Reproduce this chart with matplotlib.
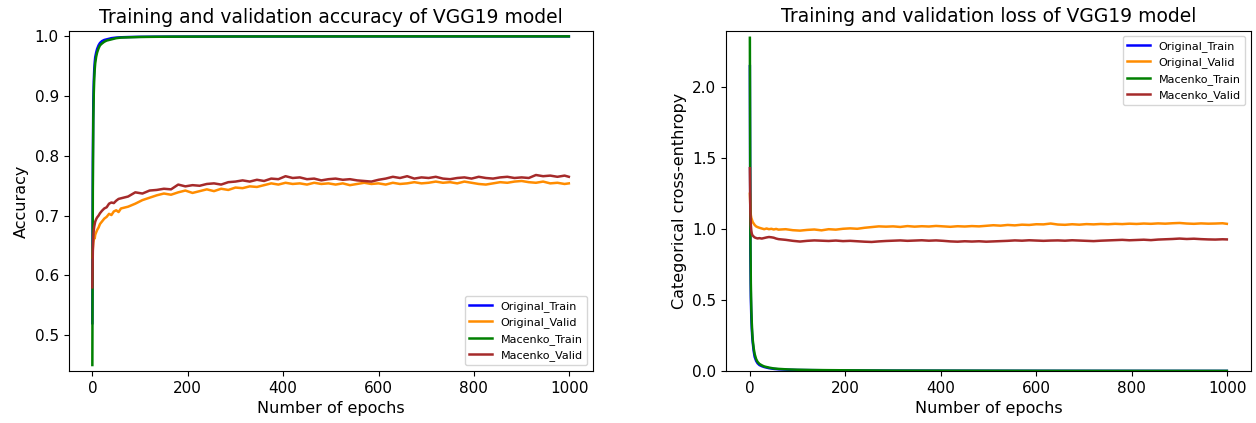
import matplotlib
matplotlib.use("Agg")
import matplotlib.pyplot as plt

# ---------------- data ----------------
val_epochs = [0, 1, 2, 3, 4, 5, 6, 8, 10, 13, 16, 20, 25, 30, 35, 40, 45, 50, 55, 60] \
    + list(range(75, 991, 15)) + [999]
train_epochs = [0, 1, 2, 3, 4, 5, 6, 8, 10, 13, 16, 20, 25, 30, 40, 50, 60, 80, 100,
                130, 160, 200, 250, 300, 400, 500, 600, 700, 800, 900, 999]

orig_train_acc = [0.52, 0.79, 0.89, 0.925, 0.945, 0.957, 0.965, 0.973, 0.979, 0.985,
                  0.989, 0.992, 0.994, 0.995, 0.997, 0.998, 0.9985, 0.999, 0.9993, 0.9995,
                  0.9996, 0.9997, 0.9998, 0.9999, 0.9999, 1.0, 1.0, 1.0, 1.0, 1.0, 1.0]
macenko_train_acc = [0.45, 0.74, 0.86, 0.905, 0.93, 0.945, 0.955, 0.966, 0.973, 0.98,
                     0.985, 0.988, 0.991, 0.993, 0.995, 0.997, 0.998, 0.9985, 0.999, 0.9993,
                     0.9995, 0.9996, 0.9997, 0.9998, 0.9999, 0.9999, 1.0, 1.0, 1.0, 1.0, 1.0]

orig_valid_acc = [0.63, 0.645, 0.655, 0.66, 0.665, 0.662, 0.668, 0.672, 0.676, 0.68,
                  0.686, 0.69, 0.695, 0.698, 0.703, 0.701, 0.707, 0.709, 0.706, 0.712,
                  0.715, 0.72, 0.726, 0.73, 0.734, 0.737, 0.735, 0.739, 0.742, 0.738,
                  0.741, 0.744, 0.741, 0.745, 0.743, 0.747, 0.746, 0.749, 0.748, 0.751,
                  0.754, 0.752, 0.755, 0.753, 0.754, 0.752, 0.755, 0.753, 0.754, 0.752,
                  0.754, 0.751, 0.753, 0.755, 0.753, 0.754, 0.752, 0.755, 0.753, 0.754,
                  0.756, 0.754, 0.755, 0.757, 0.755, 0.756, 0.754, 0.757, 0.755, 0.753,
                  0.752, 0.754, 0.756, 0.755, 0.757, 0.758, 0.756, 0.755, 0.757, 0.754,
                  0.755, 0.753, 0.754]
macenko_valid_acc = [0.58, 0.64, 0.665, 0.676, 0.682, 0.686, 0.69, 0.694, 0.697, 0.70,
                     0.704, 0.708, 0.712, 0.714, 0.72, 0.722, 0.721, 0.725, 0.728, 0.729,
                     0.732, 0.739, 0.737, 0.742, 0.743, 0.745, 0.744, 0.752, 0.749, 0.751,
                     0.75, 0.753, 0.754, 0.752, 0.756, 0.757, 0.759, 0.757, 0.76, 0.758,
                     0.762, 0.761, 0.766, 0.763, 0.764, 0.761, 0.762, 0.759, 0.761, 0.762,
                     0.76, 0.761, 0.759, 0.758, 0.757, 0.76, 0.762, 0.765, 0.763, 0.766,
                     0.762, 0.764, 0.763, 0.765, 0.762, 0.761, 0.763, 0.764, 0.762, 0.765,
                     0.763, 0.762, 0.764, 0.765, 0.763, 0.764, 0.763, 0.768, 0.766, 0.767,
                     0.765, 0.767, 0.765]

orig_train_loss = [2.15, 0.85, 0.52, 0.38, 0.3, 0.24, 0.2, 0.14, 0.1, 0.072, 0.055, 0.042,
                   0.034, 0.028, 0.02, 0.015, 0.012, 0.009, 0.007, 0.006, 0.005, 0.004,
                   0.003, 0.0025, 0.002, 0.0015, 0.0012, 0.001, 0.0008, 0.0007, 0.0006]
macenko_train_loss = [2.35, 1.0, 0.62, 0.44, 0.34, 0.27, 0.22, 0.16, 0.12, 0.085, 0.065,
                      0.05, 0.04, 0.032, 0.024, 0.018, 0.015, 0.011, 0.009, 0.007, 0.006,
                      0.005, 0.004, 0.003, 0.0025, 0.002, 0.0015, 0.0012, 0.001, 0.0009, 0.0008]

orig_valid_loss = [1.25, 1.15, 1.1, 1.08, 1.07, 1.06, 1.05, 1.04, 1.03, 1.02,
                   1.015, 1.01, 1.005, 1.0, 1.005, 1.0, 1.003, 0.998, 1.002, 0.997,
                   1.0, 0.993, 0.99, 0.995, 0.998, 0.992, 1.0, 0.997, 1.003, 1.006,
                   1.003, 1.01, 1.015, 1.02, 1.018, 1.02, 1.016, 1.022, 1.018, 1.021,
                   1.019, 1.023, 1.02, 1.017, 1.021, 1.019, 1.022, 1.02, 1.024, 1.028,
                   1.025, 1.03, 1.027, 1.032, 1.03, 1.035, 1.034, 1.04, 1.033, 1.031,
                   1.035, 1.032, 1.036, 1.034, 1.037, 1.035, 1.038, 1.036, 1.039, 1.037,
                   1.04, 1.038, 1.041, 1.039, 1.042, 1.044, 1.04, 1.038, 1.041, 1.039,
                   1.04, 1.042, 1.038]
macenko_valid_loss = [1.43, 1.12, 1.03, 0.99, 0.97, 0.96, 0.955, 0.948, 0.942, 0.938,
                      0.935, 0.937, 0.934, 0.938, 0.942, 0.945, 0.943, 0.94, 0.934, 0.93,
                      0.925, 0.918, 0.913, 0.918, 0.921, 0.919, 0.917, 0.92, 0.916, 0.918,
                      0.915, 0.912, 0.91, 0.914, 0.917, 0.919, 0.921, 0.918, 0.92, 0.922,
                      0.919, 0.921, 0.918, 0.914, 0.912, 0.915, 0.913, 0.915, 0.912, 0.914,
                      0.916, 0.918, 0.921, 0.919, 0.922, 0.92, 0.918, 0.92, 0.921, 0.919,
                      0.922, 0.92, 0.918, 0.916, 0.919, 0.921, 0.923, 0.925, 0.922, 0.924,
                      0.926, 0.923, 0.927, 0.929, 0.931, 0.934, 0.931, 0.933, 0.93, 0.928,
                      0.927, 0.929, 0.928]

labels = ["Original_Train", "Original_Valid", "Macenko_Train", "Macenko_Valid"]
colors = ["blue", "darkorange", "green", "brown"]

# ---------------- figure ----------------
W, H = 1256, 423
fig = plt.figure(figsize=(W / 100, H / 100), dpi=100)

def px_axes(left, top, right, bottom):
    return fig.add_axes([left / W, 1 - bottom / H, (right - left) / W, (bottom - top) / H])

ax1 = px_axes(68.5, 31, 592.7, 371)
ax2 = px_axes(726, 30.7, 1250.7, 371)

lw = 1.8
ax1.plot(train_epochs, orig_train_acc, color=colors[0], lw=lw, label=labels[0])
ax1.plot(val_epochs, orig_valid_acc, color=colors[1], lw=lw, label=labels[1])
ax1.plot(train_epochs, macenko_train_acc, color=colors[2], lw=lw, label=labels[2])
ax1.plot(val_epochs, macenko_valid_acc, color=colors[3], lw=lw, label=labels[3])
ax1.set_xlim(-50, 1049)
ax1.set_ylim(0.44, 1.009)
ax1.set_title("Training and validation accuracy of VGG19 model", fontsize=13.5)
ax1.set_xlabel("Number of epochs", fontsize=11.5)
ax1.set_ylabel("Accuracy", fontsize=11.5)
ax1.legend(loc="lower right", fontsize=8)

ax2.plot(train_epochs, orig_train_loss, color=colors[0], lw=lw, label=labels[0])
ax2.plot(val_epochs, orig_valid_loss, color=colors[1], lw=lw, label=labels[1])
ax2.plot(train_epochs, macenko_train_loss, color=colors[2], lw=lw, label=labels[2])
ax2.plot(val_epochs, macenko_valid_loss, color=colors[3], lw=lw, label=labels[3])
ax2.set_xlim(-50, 1049)
ax2.set_ylim(0, 2.40)
ax2.set_title("Training and validation loss of VGG19 model", fontsize=13.5)
ax2.set_xlabel("Number of epochs", fontsize=11.5)
ax2.set_ylabel("Categorical cross-enthropy", fontsize=11.5)
ax2.legend(loc="upper right", fontsize=8)

for ax in (ax1, ax2):
    ax.tick_params(labelsize=11)
    ax.set_xticks([0, 200, 400, 600, 800, 1000])

fig.savefig("out.png", dpi=100)
